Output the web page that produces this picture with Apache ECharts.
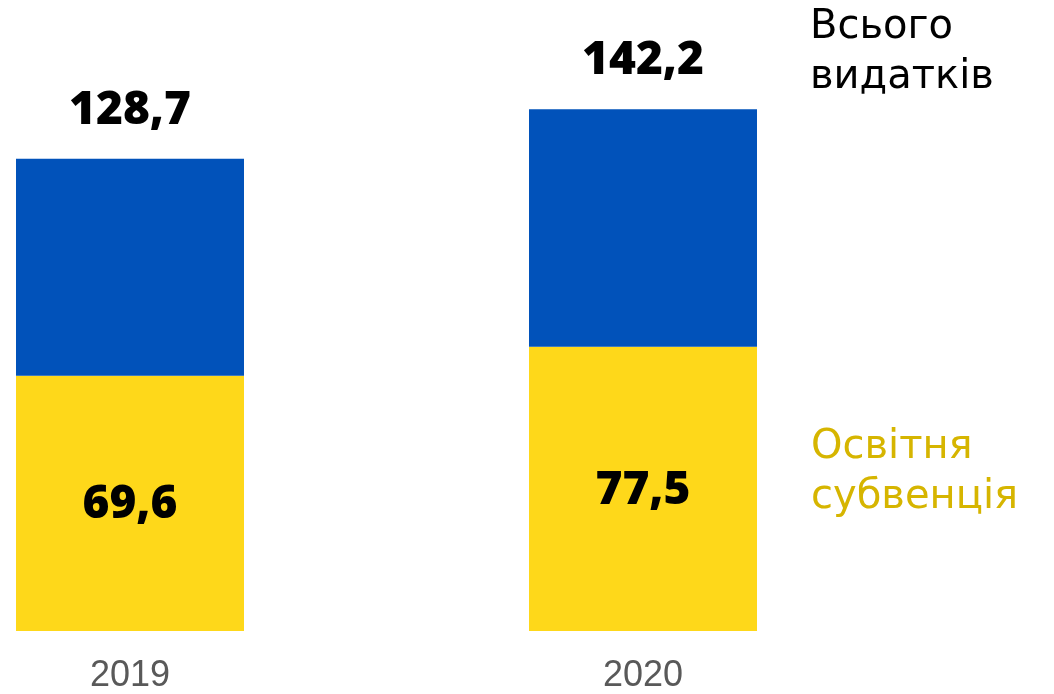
<!DOCTYPE html>
<html><head><meta charset="utf-8">
<script src="https://cdn.jsdelivr.net/npm/echarts@6/dist/echarts.min.js"></script>
<style>html,body{margin:0;padding:0;background:#fff}#c{width:1054px;height:694px}</style>
</head><body><div id="c"></div>
<script>
const years = ['2019', '2020'];
const totalSpending = [128.7, 142.2];
const educationSubvention = [69.6, 77.5];
const totalLabel = ['Всього', 'видатків'];
const subventionLabel = ['Освітня', 'субвенція'];

const rest = totalSpending.map((t, i) => +(t - educationSubvention[i]).toFixed(1));
const fmt = v => String(v).replace('.', ',');
const numFont = '"Open Sans", "DejaVu Sans", sans-serif';

const chart = echarts.init(document.getElementById('c'));
chart.setOption({
  animation: false,
  grid: { left: 130, right: 411, top: 0, bottom: 62 },
  xAxis: {
    type: 'category', data: years, boundaryGap: false,
    axisLine: { show: false }, axisTick: { show: false },
    axisLabel: { color: '#595959', fontSize: 36, fontFamily: '"Liberation Sans", Arial, sans-serif', margin: 27 }
  },
  yAxis: { type: 'value', min: 0, max: 172, show: false, splitLine: { show: false } },
  series: [
    {
      type: 'bar', stack: 'a', barWidth: 228, data: educationSubvention,
      itemStyle: { color: '#FED81A' },
      label: { show: true, position: 'inside', offset: [0, 2], color: '#000', fontSize: 46, fontWeight: 800,
        fontFamily: numFont, formatter: p => fmt(p.value) }
    },
    {
      type: 'bar', stack: 'a', barWidth: 228, data: rest,
      itemStyle: { color: '#0152BA' },
      label: { show: true, position: 'top', distance: 25, color: '#000', fontSize: 46, fontWeight: 800,
        fontFamily: numFont, formatter: p => fmt(totalSpending[p.dataIndex]) }
    }
  ],
  graphic: [
    { type: 'text', left: 810, top: 3, style: { text: totalLabel.join('\n'), fill: '#000',
      font: '40px "DejaVu Sans", sans-serif', lineHeight: 50 } },
    { type: 'text', left: 811, top: 423, style: { text: subventionLabel.join('\n'), fill: '#D6B500',
      font: '40px "DejaVu Sans", sans-serif', lineHeight: 50 } }
  ]
});
</script></body></html>
